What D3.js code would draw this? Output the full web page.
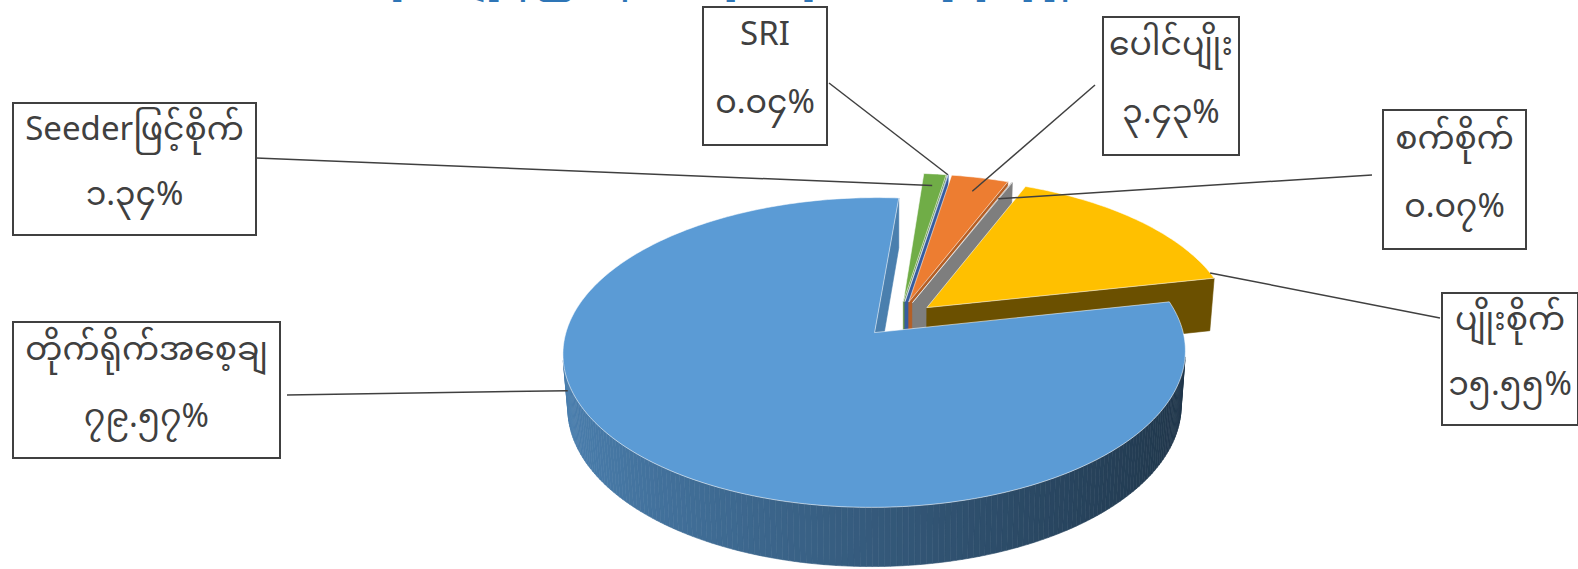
<!DOCTYPE html>
<html>
<head>
<meta charset="utf-8">
<script src="https://cdn.jsdelivr.net/npm/d3@7"></script>
<style>
  body { margin: 0; background: #fff; overflow: hidden; }
  text { font-family: "Noto Sans Myanmar", "Myanmar Text", "Padauk", "Noto Sans", "Open Sans", sans-serif; }
</style>
</head>
<body>
<div id="chart"></div>
<script>
// chart data, clockwise from the top of the pie
var categories = ["Seederဖြင့်စိုက်", "SRI", "ပေါင်ပျိုး", "စက်စိုက်", "ပျိုးစိုက်", "တိုက်ရိုက်အစေ့ချ"];
var values = [1.34, 0.04, 3.43, 0.07, 15.55, 79.57];
var sliceColors = ["#70AD47", "#4472C4", "#ED7D31", "#A5A5A5", "#FFC000", "#5B9BD5"];
var titleText = "စပါးစိုက်ပျိုးနည်းစနစ်အလိုက် စိုက်ဧကရာခိုင်နှုန်း";

// label box layout (not data); y3 = anchor height as a share of the pie thickness
var boxes = [
    { x: 13, y: 103, w: 243, h: 132, lx: 256, ly: 158, t: 0.5, r: 0.9, y3: 0 },
    { x: 703, y: 7, w: 124, h: 138, lx: 829, ly: 83, t: 0.5, r: 1.0, y3: 0 },
    { x: 1103, y: 17, w: 136, h: 138, lx: 1095, ly: 85, t: 0.5, r: 0.88, y3: 0 },
    { x: 1383, y: 110, w: 143, h: 139, lx: 1372, ly: 175, t: 0.5, r: 0.85, y3: 0 },
    { x: 1442, y: 293, w: 136, h: 132, lx: 1440, ly: 318, t: 0.96, r: 1.0, y3: 0 },
    { x: 13, y: 322, w: 267, h: 136, lx: 287, ly: 395, t: 0.655, r: 1.0, y3: -0.85 }
];

var width = 1578, height = 569;
var cx = 899, cy = 319;
var tilt = 29.2 * Math.PI / 180;
var camDist = 6.87, focal = 2096;
var thickness = 0.205, explode = 0.12;
var firstAngle = 4.5 * Math.PI / 180;

var myDigits = "၀၁၂၃၄၅၆၇၈၉";
function toMyanmar(v) {
    return v.toFixed(2).replace(/[0-9]/g, function (c) { return myDigits[+c]; }) + "%";
}

var svg = d3.select("#chart").append("svg")
    .attr("width", width)
    .attr("height", height);

// title, almost all of it above the top edge
svg.append("text")
    .attr("x", 697)
    .attr("y", -15)
    .attr("text-anchor", "middle")
    .attr("fill", "#2E75B6")
    .attr("font-size", 36)
    .attr("font-weight", "bold")
    .attr("textLength", 785)
    .attr("lengthAdjust", "spacing")
    .text(titleText);

function project(p) {
    var d = camDist - (p[1] * Math.sin(tilt) + p[2] * Math.cos(tilt));
    return [cx + focal * p[0] / d, cy - focal * (p[1] * Math.cos(tilt) - p[2] * Math.sin(tilt)) / d];
}
var cam = [0, camDist * Math.sin(tilt), camDist * Math.cos(tilt)];

function shade(color, f) {
    var c = d3.rgb(color);
    return d3.rgb(c.r * f, c.g * f, c.b * f).toString();
}

var pie = d3.pie().sort(null).value(function (d) { return d; })
    .startAngle(firstAngle).endAngle(firstAngle + 2 * Math.PI);
var arcs = pie(values);

var walls = [], tops = [];

arcs.forEach(function (a, i) {
    var mid = (a.startAngle + a.endAngle) / 2;
    var off = [explode * Math.sin(mid), 0, -explode * Math.cos(mid)];
    a.rim = function (th, r, y) {
        return [off[0] + r * Math.sin(th), y, off[2] - r * Math.cos(th)];
    };
    var apexT = [off[0], 0, off[2]], apexB = [off[0], -thickness, off[2]];

    // top face
    var n = Math.max(1, Math.ceil((a.endAngle - a.startAngle) / (Math.PI / 180)));
    var pts = [apexT];
    for (var k = 0; k <= n; k++) {
        var th = a.startAngle + (a.endAngle - a.startAngle) * k / n;
        pts.push(a.rim(th, 1, 0));
    }
    tops.push({ pts: pts, fill: sliceColors[i] });

    function addWall(poly, normal, f) {
        var c = [0, 0, 0];
        poly.forEach(function (p) { c[0] += p[0] / poly.length; c[1] += p[1] / poly.length; c[2] += p[2] / poly.length; });
        var v = [cam[0] - c[0], cam[1] - c[1], cam[2] - c[2]];
        if (normal[0] * v[0] + normal[1] * v[1] + normal[2] * v[2] <= 0) return;
        walls.push({ pts: poly, dist: Math.hypot(v[0], v[1], v[2]), fill: shade(sliceColors[i], f) });
    }

    // radial side faces
    var s = a.startAngle, e = a.endAngle;
    var phiS = s - Math.PI / 2, phiE = e + Math.PI / 2;
    addWall([apexT, a.rim(s, 1, 0), a.rim(s, 1, -thickness), apexB],
        [-Math.cos(s), 0, -Math.sin(s)], 0.4 + 0.42 * Math.pow(Math.sin(phiS), 2));
    addWall([apexT, a.rim(e, 1, 0), a.rim(e, 1, -thickness), apexB],
        [Math.cos(e), 0, Math.sin(e)], 0.4 + 0.42 * Math.pow(Math.sin(phiE), 2));

    // outer wall, in thin strips so it can be shaded
    for (var k = 0; k < n; k++) {
        var t0 = s + (e - s) * k / n, t1 = s + (e - s) * (k + 1) / n, tm = (t0 + t1) / 2;
        addWall([a.rim(t0, 1, 0), a.rim(t1, 1, 0), a.rim(t1, 1, -thickness), a.rim(t0, 1, -thickness)],
            [Math.sin(tm), 0, -Math.cos(tm)], 0.58 - 0.24 * Math.sin(tm));
    }
});

var line = d3.line().x(function (p) { return project(p)[0]; }).y(function (p) { return project(p)[1]; })
    .curve(d3.curveLinearClosed);

walls.sort(function (a, b) { return b.dist - a.dist; });
svg.append("g").selectAll("path")
    .data(walls)
    .enter().append("path")
    .attr("d", function (d) { return line(d.pts); })
    .attr("fill", function (d) { return d.fill; })
    .attr("stroke", function (d) { return d.fill; })
    .attr("stroke-width", 0.6);

svg.append("g").selectAll("path")
    .data(tops)
    .enter().append("path")
    .attr("d", function (d) { return line(d.pts); })
    .attr("fill", function (d) { return d.fill; })
    .attr("stroke", "rgba(255,255,255,0.55)")
    .attr("stroke-width", 1);

// leader lines
function anchor(d, i) {
    var a = arcs[i];
    return project(a.rim(a.startAngle + (a.endAngle - a.startAngle) * d.t, d.r, d.y3 * thickness));
}
svg.append("g").selectAll("line")
    .data(boxes)
    .enter().append("line")
    .attr("x1", function (d) { return d.lx; })
    .attr("y1", function (d) { return d.ly; })
    .attr("x2", function (d, i) { return anchor(d, i)[0]; })
    .attr("y2", function (d, i) { return anchor(d, i)[1]; })
    .attr("stroke", "#404040")
    .attr("stroke-width", 1.5);

// label boxes
var lab = svg.append("g").selectAll("g")
    .data(boxes)
    .enter().append("g");

lab.append("rect")
    .attr("x", function (d) { return d.x; })
    .attr("y", function (d) { return d.y; })
    .attr("width", function (d) { return d.w; })
    .attr("height", function (d) { return d.h; })
    .attr("fill", "#fff")
    .attr("stroke", "#404040")
    .attr("stroke-width", 2);

lab.append("text")
    .attr("x", function (d) { return d.x + d.w / 2; })
    .attr("y", function (d) { return d.y + d.h * 0.22; })
    .attr("text-anchor", "middle")
    .attr("dominant-baseline", "central")
    .attr("font-size", 33)
    .attr("fill", "#404040")
    .text(function (d, i) { return categories[i]; });

lab.append("text")
    .attr("x", function (d) { return d.x + d.w / 2; })
    .attr("y", function (d) { return d.y + d.h * 0.71; })
    .attr("text-anchor", "middle")
    .attr("dominant-baseline", "central")
    .attr("font-size", 33)
    .attr("fill", "#404040")
    .text(function (d, i) { return toMyanmar(values[i]); });
</script>
</body>
</html>
